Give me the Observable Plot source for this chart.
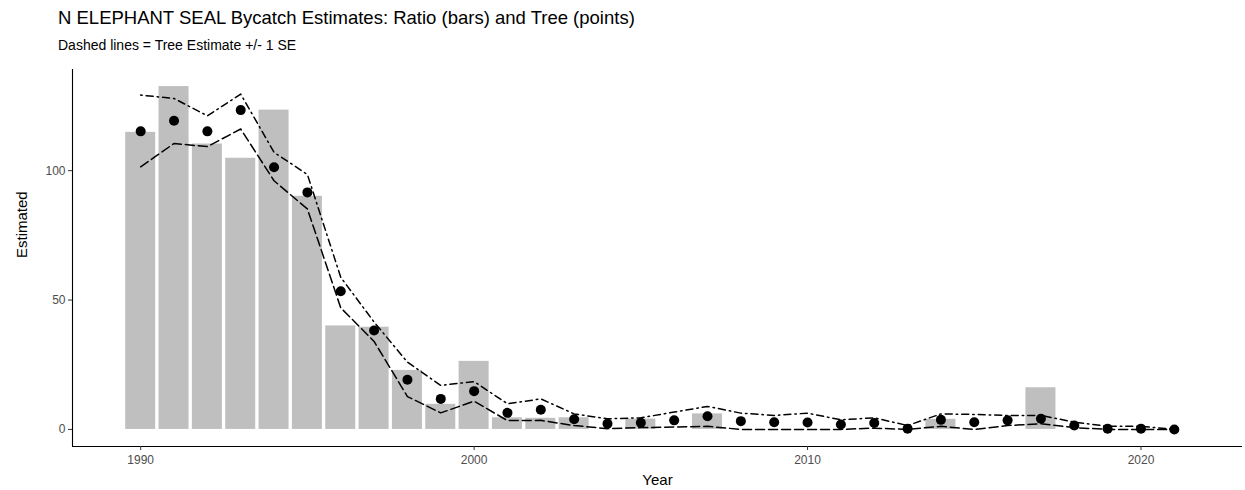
<!DOCTYPE html>
<html>
<head>
<meta charset="utf-8">
<script src="https://cdn.jsdelivr.net/npm/d3@7"></script>
<script src="https://cdn.jsdelivr.net/npm/@observablehq/plot@0.6"></script>
<style>
  body { margin: 0; background: #fff; font-family: "Liberation Sans", Arial, sans-serif; }
  #header { position: relative; height: 60px; width: 1245px; }
  #title { position: absolute; left: 58px; top: 7px; font-size: 18.5px; color: #000; white-space: nowrap; }
  #subtitle { position: absolute; left: 58px; top: 37px; font-size: 14px; color: #000; white-space: nowrap; }
  #chart svg { display: block; }
</style>
</head>
<body>
<div id="header">
  <div id="title">N ELEPHANT SEAL Bycatch Estimates: Ratio (bars) and Tree (points)</div>
  <div id="subtitle">Dashed lines = Tree Estimate +/- 1 SE</div>
</div>
<div id="chart"></div>
<script>
const years = [1990,1991,1992,1993,1994,1995,1996,1997,1998,1999,2000,2001,2002,2003,2004,2005,2006,2007,2008,2009,2010,2011,2012,2013,2014,2015,2016,2017,2018,2019,2020,2021];
const ratioEst = [114.8,132.5,110.3,104.8,123.4,90.1,40.0,39.5,22.8,9.7,26.3,4.5,4.3,4.5,0,4.0,0,6.0,0,0,0,0,0,0,3.9,0,0,16.1,0,0,0,0];
const treeEst = [115.2,119.3,115.2,123.4,101.3,91.6,53.4,38.2,19.2,11.8,14.8,6.4,7.6,3.9,2.2,2.6,3.5,5.1,3.2,2.8,2.7,1.9,2.5,0.3,3.7,2.8,3.5,4.1,1.5,0.3,0.3,0];
const treeUpper = [129.2,127.9,121.2,129.6,107.1,98.5,58.8,41.5,26,17,18.5,9.9,11.8,6.0,4.1,4.5,6.7,8.9,6.3,5.4,6.3,3.7,4.5,1.5,6.0,5.8,5.4,5.4,2.8,1.2,1.2,0];
const treeLower = [101.5,110.5,109.3,116.1,96.1,85.2,47,34,12.7,6.4,10.9,3.4,3.5,1.5,0.3,0.7,0.9,1.2,0,0,0,0,0.5,0,1.2,0,1.5,2.2,0.7,0,0,0];
const xTicks = [1990, 2000, 2010, 2020];
const yTicks = [0, 50, 100];

const rows = years.map((yr, i) => ({year: yr, ratio: ratioEst[i], tree: treeEst[i], upper: treeUpper[i], lower: treeLower[i]}));

const yMin = -6.6, yMax = 139.1;
const xMin = 1987.955, xMax = 2023.045;
const tickColor = "#4d4d4d";

const chart = Plot.plot({
  width: 1245,
  height: 430,
  marginTop: 9,
  marginBottom: 44,
  marginLeft: 72,
  marginRight: 3,
  style: { fontFamily: "'Liberation Sans', Arial, sans-serif", background: "#fff", color: "#4d4d4d" },
  x: { type: "linear", domain: [xMin, xMax] },
  y: { domain: [yMin, yMax] },
  marks: [
    Plot.rect(rows, { x1: d => d.year - 0.45, x2: d => d.year + 0.45, y1: 0, y2: "ratio", fill: "#bfbfbf" }),
    Plot.line(rows, { x: "year", y: "upper", stroke: "#000", strokeWidth: 1.5, strokeDasharray: "1.5,4,7,4" }),
    Plot.line(rows, { x: "year", y: "lower", stroke: "#000", strokeWidth: 1.5, strokeDasharray: "9,4" }),
    Plot.dot(rows, { x: "year", y: "tree", r: 5, fill: "#000", stroke: "none" }),
    Plot.ruleX([xMin], { stroke: "#000", strokeWidth: 1.1 }),
    Plot.ruleY([yMin], { stroke: "#000", strokeWidth: 1.1 }),
    Plot.axisX({ ticks: xTicks, tickFormat: d => String(d), tickSize: 4, tickPadding: 5, fontSize: 12, fill: tickColor, stroke: "#333", label: null }),
    Plot.axisY({ ticks: yTicks, tickFormat: d => String(d), tickSize: 4, tickPadding: 3, fontSize: 12, fill: tickColor, stroke: "#333", label: null }),
    Plot.text(["Year"], { frameAnchor: "bottom", dy: 38, fontSize: 15, fill: "#000" }),
    Plot.text(["Estimated"], { frameAnchor: "left", dx: -50, rotate: -90, fontSize: 15, fill: "#000" })
  ]
});
document.getElementById("chart").appendChild(chart);
</script>
</body>
</html>
